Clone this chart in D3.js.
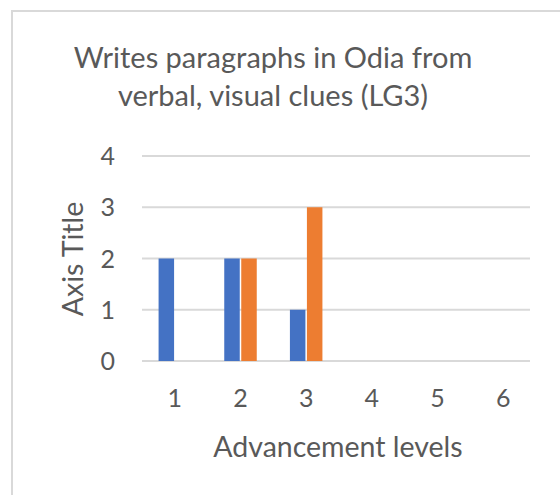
<!DOCTYPE html>
<html><head><meta charset="utf-8">
<script src="https://cdn.jsdelivr.net/npm/d3@7"></script>
<style>html,body{margin:0;padding:0;background:#fff;}svg{display:block;}</style>
</head><body>
<svg id="c" width="560" height="495"></svg>
<script>
const categories = ["1","2","3","4","5","6"];
const series1 = [2,2,1,0,0,0];
const series2 = [0,2,3,0,0,0];
const yTicks = [0,1,2,3,4];
const titleLines = ["Writes paragraphs in Odia from","verbal, visual clues (LG3)"];
const xTitle = "Advancement levels";
const yTitle = "Axis Title";

(function(){
const svg = d3.select("#c");
const font = "Lato, 'Open Sans', sans-serif";
const textColor = "#595959";

svg.append("rect").attr("x",12).attr("y",11).attr("width",600).attr("height",600)
  .attr("fill","#fff").attr("stroke","#d9d9d9").attr("stroke-width",2);

const pL = 142, pR = 536, pT = 156, pB = 361;
const x = d3.scaleBand().domain(categories).range([pL,pR]);
const y = d3.scaleLinear().domain([0,4]).range([pB,pT]);

svg.append("g").selectAll("line").data(yTicks).join("line")
  .attr("x1",pL).attr("x2",pR-6).attr("y1",d=>y(d)).attr("y2",d=>y(d))
  .attr("stroke","#d9d9d9").attr("stroke-width",2);

const bw = 15.5, gap = 1.5;
const data = categories.map((c,i)=>({c, a:series1[i], b:series2[i]}));
const g = svg.append("g");
g.selectAll("rect.s1").data(data).join("rect").attr("class","s1")
  .attr("x",d=>x(d.c)+x.bandwidth()/2-gap/2-bw).attr("width",bw)
  .attr("y",d=>y(d.a)).attr("height",d=>pB-y(d.a)).attr("fill","#4472C4");
g.selectAll("rect.s2").data(data).join("rect").attr("class","s2")
  .attr("x",d=>x(d.c)+x.bandwidth()/2+gap/2).attr("width",bw)
  .attr("y",d=>y(d.b)).attr("height",d=>pB-y(d.b)).attr("fill","#ED7D31");

svg.append("g").selectAll("text").data(yTicks).join("text")
  .attr("x",115).attr("y",d=>y(d)).attr("dy","0.36em").attr("text-anchor","end")
  .attr("font-family",font).attr("font-size",25).attr("fill",textColor).text(d=>d);

svg.append("g").selectAll("text").data(categories).join("text")
  .attr("x",d=>x(d)+x.bandwidth()/2).attr("y",398).attr("dy","0.36em").attr("text-anchor","middle")
  .attr("font-family",font).attr("font-size",25).attr("fill",textColor).text(d=>d);

svg.append("g").selectAll("text").data(titleLines).join("text")
  .attr("x",273).attr("y",(d,i)=>68+i*38).attr("text-anchor","middle")
  .attr("font-family",font).attr("font-size",29).attr("fill",textColor).text(d=>d);

svg.append("text").attr("x",338).attr("y",457).attr("text-anchor","middle")
  .attr("font-family",font).attr("font-size",28.5).attr("fill",textColor).text(xTitle);

svg.append("text").attr("transform","translate(83,259) rotate(-90)").attr("text-anchor","middle")
  .attr("font-family",font).attr("font-size",28.5).attr("fill",textColor).text(yTitle);
})();
</script>
</body></html>
